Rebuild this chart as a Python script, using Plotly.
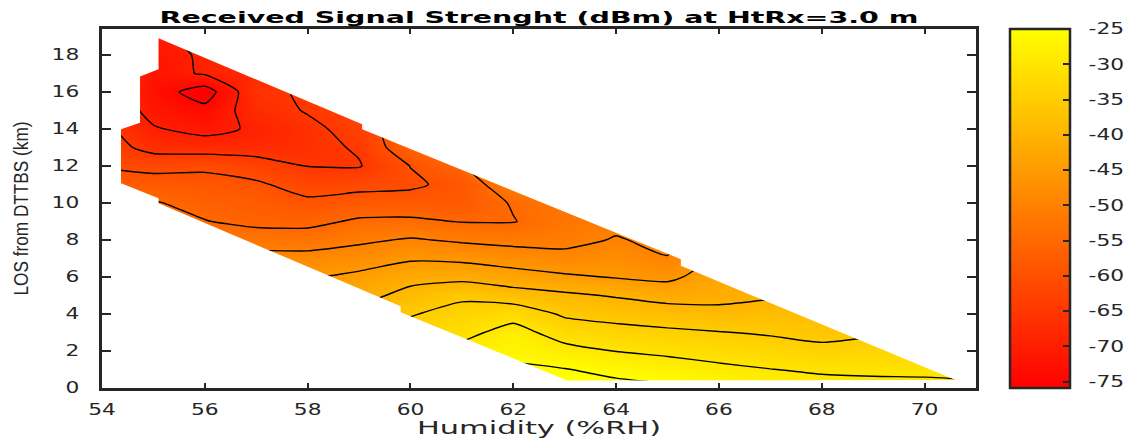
import plotly.graph_objects as go

# Grid of the surface (humidity %RH along x, LOS distance km along y)
humidity = [54, 55, 56, 57, 58, 59, 60, 61, 62, 63, 64, 65, 66, 67, 68, 69, 70, 71]
distance = list(range(0, 20))
N = None
# received signal strength (dBm), one row per distance
signal_dbm = [
    [N, N, N, N, N, N, N, N, -22.0, -23.5, -23.5, -24.3, -26.2, -27.5, -28.3, -28.8, -29.0, -29.2],
    [N, N, N, N, N, N, N, -26.0, -24.0, -24.8, -26.3, -27.4, -28.9, -29.9, -30.6, -30.7, -30.7, -31.0],
    [N, N, N, N, N, N, -31.0, -28.5, -26.8, -28.5, -30.1, -31.1, -32.0, -32.8, -33.7, -33.5, -33.0, -33.5],
    [N, N, N, N, N, -37.0, -33.5, -31.4, -28.2, -32.1, -33.3, -34.1, -34.8, -35.5, -36.5, -35.5, -35.0, N],
    [N, N, N, N, N, -38.5, -35.3, -33.5, -31.8, -35.7, -36.8, -37.7, -38.5, -38.0, -38.0, -37.0, N, N],
    [N, N, N, N, -43.0, -41.8, -38.3, -35.8, -37.8, -39.1, -40.4, -41.8, -41.5, -40.5, -39.5, N, N, N],
    [N, N, N, -46.0, -45.5, -43.9, -41.7, -41.4, -42.8, -44.2, -45.3, -46.1, -42.5, -42.0, N, N, N, N],
    [N, N, -49.0, -48.2, -48.2, -47.4, -45.6, -46.0, -47.4, -48.7, -47.5, -49.8, -44.0, N, N, N, N, N],
    [N, -50.5, -51.6, -52.3, -52.6, -50.9, -49.5, -50.7, -51.4, -51.2, -49.7, -51.0, -45.5, N, N, N, N, N],
    [N, -52.5, -54.8, -56.3, -56.3, -54.3, -54.1, -55.2, -55.2, -52.5, -51.0, -51.0, N, N, N, N, N, N],
    [-54.0, -54.6, -56.7, -57.6, -59.0, -58.0, -58.0, -58.0, -54.6, -52.0, -51.0, N, N, N, N, N, N, N],
    [-57.5, -57.8, -58.5, -59.3, -62.0, -61.4, -60.8, -58.5, -50.8, -51.5, N, N, N, N, N, N, N, N],
    [-60.3, -61.5, -60.8, -62.5, -65.1, -65.3, -59.9, -55.3, -49.0, N, N, N, N, N, N, N, N, N],
    [-62.5, -66.7, -67.4, -67.5, -66.5, -64.5, -56.0, -53.0, N, N, N, N, N, N, N, N, N, N],
    [-63.5, -69.6, -71.5, -69.3, -66.3, -63.0, -56.0, N, N, N, N, N, N, N, N, N, N, N],
    [-66.0, -71.5, -73.5, -67.5, -64.6, -63.0, -57.0, N, N, N, N, N, N, N, N, N, N, N],
    [-65.5, -72.5, -77.5, -66.0, -64.5, -64.0, N, N, N, N, N, N, N, N, N, N, N, N],
    [-64.5, -72.0, -69.5, -67.5, -65.5, N, N, N, N, N, N, N, N, N, N, N, N, N],
    [-64.0, -72.0, -69.3, -67.0, N, N, N, N, N, N, N, N, N, N, N, N, N, N],
    [N, -71.0, -68.0, N, N, N, N, N, N, N, N, N, N, N, N, N, N, N],
]

# outline of the measured area (humidity, distance), clockwise
boundary_hum = [55.1, 59.06, 59.06, 65.26, 65.26, 70.6, 63.05, 59.81, 59.81, 55.1, 55.1,
                54.37, 54.37, 54.74, 54.74, 55.1, 55.1]
boundary_dist = [18.9, 14.25, 13.98, 6.96, 6.6, 0.43, 0.4, 4.1, 4.42, 9.98, 10.25,
                 11.06, 13.98, 14.34, 16.83, 17.23, 18.9]

color_min, color_max = -75.9, -25.0
colorbar_ticks = [-75, -70, -65, -60, -55, -50, -45, -40, -35, -30, -25]
contour_levels = dict(start=-75, end=-25, size=5)
x_ticks = [54, 56, 58, 60, 62, 64, 66, 68, 70]
y_ticks = [0, 2, 4, 6, 8, 10, 12, 14, 16, 18]

AX = "#262626"
TICKFONT = dict(family="DejaVu Sans", size=15, color=AX)
SCALE = [[0, "rgb(255,0,0)"], [1, "rgb(255,255,0)"]]
NBSP = "\u00a0"

fig = go.Figure()
# smooth colour surface (with the colour bar)
fig.add_trace(go.Contour(
    x=humidity, y=distance, z=signal_dbm,
    zmin=color_min, zmax=color_max, zauto=False, colorscale=SCALE,
    contours=dict(**contour_levels, coloring="heatmap", showlines=False),
    line=dict(width=0),
    connectgaps=True, hoverinfo="skip",
    colorbar=dict(
        x=(1010 - 102) / 874, xanchor="left", xref="paper",
        y=0.5, yanchor="middle", len=1.0, lenmode="fraction",
        thickness=60, thicknessmode="pixels",
        outlinewidth=2.5, outlinecolor=AX,
        tickmode="array", tickvals=colorbar_ticks,
        ticktext=[NBSP * 2 + str(v) for v in colorbar_ticks],
        ticks="inside", ticklen=8, tickwidth=2, tickcolor=AX,
        tickfont=TICKFONT, xpad=0, ypad=0,
    ),
))
# black iso-lines
fig.add_trace(go.Contour(
    x=humidity, y=distance, z=signal_dbm,
    contours=dict(**contour_levels, coloring="none", showlines=True),
    line=dict(color="black", width=1.4, smoothing=0.6),
    connectgaps=True, showscale=False, hoverinfo="skip",
))

# white out everything outside the measured area
mx = [53, 72, 72, 53, 53] + boundary_hum + [53]
my = [-1, -1, 20, 20, -1] + boundary_dist + [-1]
fig.add_trace(go.Scatter(x=mx, y=my, mode="lines", fill="toself", fillcolor="white",
                         line=dict(width=0, color="white"), hoverinfo="skip", showlegend=False))

fig.update_layout(
    width=1127, height=438,
    margin=dict(l=102, r=151, t=29, b=50, autoexpand=False),
    paper_bgcolor="white", plot_bgcolor="white",
    showlegend=False,
    title=dict(text="Received Signal Strenght (dBm) at HtRx=3.0 m",
               x=0.5, xref="paper", xanchor="center",
               y=1 - 18 / 438, yref="container", yanchor="middle",
               font=dict(family="DejaVu Sans", size=15, weight="bold", color="black")),
    xaxis=dict(range=[54, 71], tickmode="array", tickvals=x_ticks,
               ticks="inside", ticklen=5, tickwidth=2, tickcolor=AX,
               showline=True, linewidth=2.5, linecolor=AX, mirror="ticks",
               showgrid=False, zeroline=False, tickfont=TICKFONT, ticklabelstandoff=6,
               title=dict(text="Humidity (%RH)", standoff=4,
                          font=dict(family="DejaVu Sans", size=17, color=AX))),
    yaxis=dict(range=[0, 19.4], tickmode="array", tickvals=y_ticks,
               ticks="inside", ticklen=9, tickwidth=2, tickcolor=AX,
               showline=True, linewidth=2.5, linecolor=AX, mirror="ticks",
               showgrid=False, zeroline=False, tickfont=TICKFONT, ticklabelstandoff=17,
               title=dict(text="LOS from DTTBS (km)", standoff=26,
                          font=dict(family="Liberation Sans", size=21, color=AX))),
)

# the reference's texts look horizontally stretched; mimic with SVG textLength
post = """
var gd = document.getElementById('{plot_id}');
function setLen(el, w) { el.setAttribute('textLength', w); el.setAttribute('lengthAdjust', 'spacingAndGlyphs'); }
function stretchAll() {
  var t = gd.querySelector('.gtitle'); if (t) setLen(t, 759);
  var xt = gd.querySelector('.xtitle'); if (xt) setLen(xt, 244);
  var yt = gd.querySelector('.ytitle'); if (yt) setLen(yt, 174);
  gd.querySelectorAll('text').forEach(function (el) {
    var s = (el.textContent || '').trim();
    if (!/^-?[0-9]+$/.test(s)) return;
    if (!el.dataset.w0) el.dataset.w0 = el.getComputedTextLength();
    setLen(el, parseFloat(el.dataset.w0) * 1.45);
  });
}
stretchAll();
gd.on('plotly_afterplot', stretchAll);
"""

fig.write_html("out.html", post_script=post)
